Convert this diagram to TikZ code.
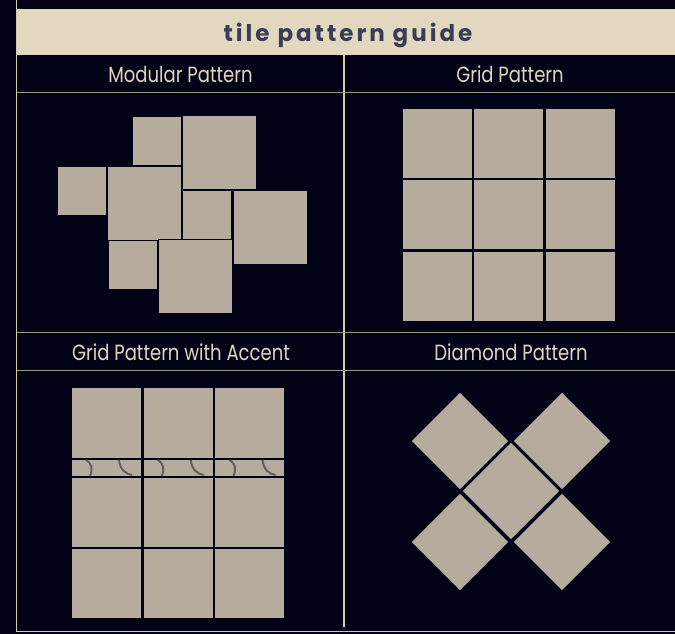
\documentclass[tikz,border=0pt]{standalone}
\usepackage{fontspec}
\newfontfamily\headfont[FakeStretch=0.82]{Poppins}
\newfontfamily\titlefont[LetterSpace=13]{Poppins}
\definecolor{bgnavy}{RGB}{3,3,24}
\definecolor{panelbeige}{RGB}{226,216,191}
\definecolor{titleink}{RGB}{58,61,87}
\definecolor{headink}{RGB}{224,214,188}
\definecolor{rulegray}{RGB}{158,150,134}
\definecolor{rulebeige}{RGB}{214,203,172}
\definecolor{tilefill}{RGB}{181,172,157}
\definecolor{accentink}{RGB}{100,90,96}

\begin{document}
\begin{tikzpicture}[x=1pt, y=-1pt,
        tile/.style={rectangle, fill=tilefill, draw=bgnavy, line width=0.4pt, inner sep=0pt, minimum size=70pt},
        smalltile/.style={tile, minimum size=49pt},
        bigtile/.style={tile, minimum size=74pt},
        striptile/.style={tile, minimum width=70pt, minimum height=17pt},
        diamondtile/.style={tile, draw=none, minimum size=68pt, rotate=45},
        heading/.style={text=headink, font=\headfont\fontsize{22}{26}\selectfont, anchor=base},
        rule/.style={draw=rulegray, line width=1.6pt},
        divider/.style={draw=rulebeige, line width=1.4pt},
        accent/.style={draw=accentink, line width=1.9pt}
    ]
    \useasboundingbox (0,0) rectangle (675,634);
    \fill[bgnavy] (0,0) rectangle (675,634);

    % Frame and title bar
    \fill[panelbeige] (17,9) rectangle (675,55.5);
    \node[font=\titlefont\bfseries\fontsize{23}{28}\selectfont, text=titleink, anchor=base] (title) at (348,42) {tile pattern guide};
    \draw[divider] (16.5,0) -- (16.5,631);
    \draw[divider] (344,55.5) -- (344,627);
    \draw[rule] (17,92.5) -- (675,92.5);
    \draw[rule] (17,332.5) -- (675,332.5);
    \draw[rule] (17,370.5) -- (675,370.5);
    \draw[divider] (16,631.5) -- (675,631.5);

    % Headings
    \node[heading] (modhead) at (180.5,83) {Modular Pattern};
    \node[heading] (gridhead) at (510,83) {Grid Pattern};
    \node[heading] (accenthead) at (181,360) {Grid Pattern with Accent};
    \node[heading] (diamhead) at (511,360) {Diamond Pattern};

    % Top left - Modular
    \node[smalltile] (m1) at (156.5,140.5) {};
    \node[bigtile] (m2) at (219,152.5) {};
    \node[smalltile] (m3) at (81.5,190.5) {};
    \node[bigtile] (m4) at (144,203) {};
    \node[smalltile] (m5) at (206.5,214.5) {};
    \node[bigtile] (m6) at (270,227) {};
    \node[smalltile] (m7) at (132.5,264.5) {};
    \node[bigtile] (m8) at (195,276.5) {};

    % Top right - Grid
    \foreach \i in {0,1,2}
        \foreach \j in {0,1,2}
            \node[tile] (g\i\j) at (437+71.5*\i, 143+71.5*\j) {};

    % Bottom left - Grid with accent strip
    \foreach \i in {0,1,2} {
        \node[tile, minimum height=71pt] (a\i0) at (106+71.75*\i, 423) {};
        \node[striptile] (s\i) at (106+71.75*\i, 467.5) {};
        \node[tile] (a\i1) at (106+71.75*\i, 512) {};
        \node[tile] (a\i2) at (106+71.75*\i, 583) {};
        \begin{scope}[xshift=71.75*\i pt]
            \draw[accent] (86,460) .. controls (92,464) and (93,469) .. (90,476);
            \draw[accent] (119,460) .. controls (120,470) and (126,474) .. (132,475);
        \end{scope}
    }

    % Bottom right - Diamond
    \node[diamondtile] (d1) at (460,441) {};
    \node[diamondtile] (d2) at (562,441) {};
    \node[diamondtile] (d3) at (511,491) {};
    \node[diamondtile] (d4) at (460,542) {};
    \node[diamondtile] (d5) at (562,542) {};
\end{tikzpicture}
\end{document}
